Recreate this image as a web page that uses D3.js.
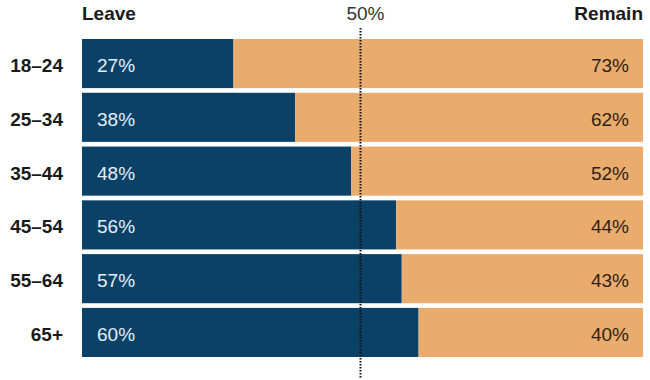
<!DOCTYPE html>
<html>
<head>
<meta charset="utf-8">
<script src="https://cdn.jsdelivr.net/npm/d3@7"></script>
<style>
  html, body { margin: 0; padding: 0; background: #fff; }
  svg { display: block; font-family: "Liberation Sans", Arial, Helvetica, sans-serif; }
</style>
</head>
<body>
<svg id="chart" width="650" height="380"></svg>
<script>
const ageGroups = ["18–24", "25–34", "35–44", "45–54", "55–64", "65+"];
const leave = [27, 38, 48, 56, 57, 60];
const remain = [73, 62, 52, 44, 43, 40];
const seriesNames = ["Leave", "Remain"];
const midLabel = "50%";

(function () {
const mLeft = 82, mRight = 643, mTop = 39, mBottom = 357;
const fs = 19;
const svg = d3.select("#chart");

const x = d3.scaleLinear().domain([0, 100]).range([mLeft, mRight]);
const y = d3.scaleBand().domain(ageGroups).range([mTop, mBottom]).paddingInner(0.087).paddingOuter(0);

const blue = "#0c4167", orange = "#e9ac6c";

const rows = ageGroups.map((g, i) => ({ g, leave: leave[i], remain: remain[i] }));

svg.append("g").selectAll("rect").data(rows).join("rect")
  .attr("x", x(0)).attr("y", d => y(d.g))
  .attr("width", d => x(d.leave) - x(0)).attr("height", y.bandwidth())
  .attr("fill", blue);

svg.append("g").selectAll("rect").data(rows).join("rect")
  .attr("x", d => x(d.leave)).attr("y", d => y(d.g))
  .attr("width", d => x(100) - x(d.leave)).attr("height", y.bandwidth())
  .attr("fill", orange);

svg.append("g").selectAll("text").data(rows).join("text")
  .attr("x", x(0) + 15).attr("y", d => y(d.g) + y.bandwidth() / 2)
  .attr("dy", "0.45em").attr("font-size", fs).attr("fill", "#e3eef7")
  .text(d => d.leave + "%");

svg.append("g").selectAll("text").data(rows).join("text")
  .attr("x", x(100) - 14).attr("y", d => y(d.g) + y.bandwidth() / 2)
  .attr("dy", "0.45em").attr("font-size", fs).attr("fill", "#2e2216")
  .attr("text-anchor", "end")
  .text(d => d.remain + "%");

const yAxis = svg.append("g").attr("transform", `translate(${mLeft},0)`)
  .call(d3.axisLeft(y).tickSize(0).tickPadding(19));
yAxis.select(".domain").remove();
yAxis.selectAll("text").attr("font-size", fs).attr("font-weight", "bold")
  .attr("dy", "0.45em")
  .attr("fill", "#1a1a1a").attr("font-family", "Liberation Sans, Arial, sans-serif");

svg.append("text").attr("x", x(0)).attr("y", 20).attr("font-size", fs)
  .attr("font-weight", "bold").attr("fill", "#1a1a1a").text(seriesNames[0]);
svg.append("text").attr("x", x(100)).attr("y", 20).attr("font-size", fs)
  .attr("font-weight", "bold").attr("fill", "#1a1a1a").attr("text-anchor", "end").text(seriesNames[1]);
svg.append("text").attr("x", x(50) + 3).attr("y", 20).attr("font-size", fs)
  .attr("fill", "#333").attr("text-anchor", "middle").text(midLabel);

svg.append("line")
  .attr("x1", x(50) - 2).attr("x2", x(50) - 2)
  .attr("y1", 28).attr("y2", 379)
  .attr("stroke", "#111").attr("stroke-width", 2)
  .attr("stroke-dasharray", "1.5,1.5");
})();
</script>
</body>
</html>
